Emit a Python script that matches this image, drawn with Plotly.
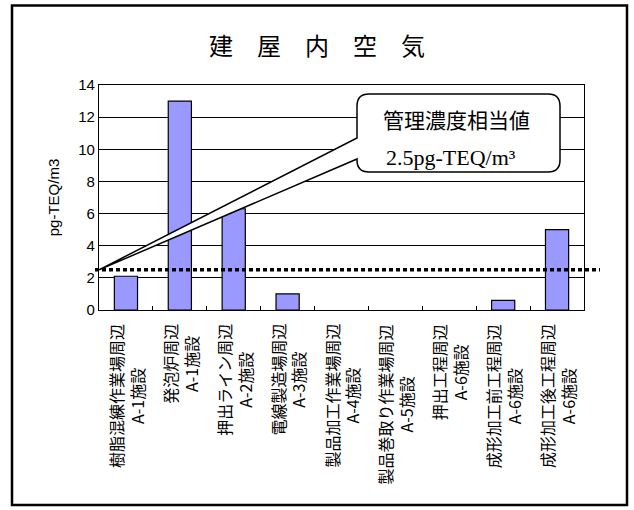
import plotly.graph_objects as go

# Sampling locations (two-line labels: location / facility)
locations = ["樹脂混練作業場周辺", "発泡炉周辺", "押出ライン周辺", "電線製造場周辺",
             "製品加工作業場周辺", "製品巻取り作業場周辺", "押出工程周辺",
             "成形加工前工程周辺", "成形加工後工程周辺"]
facilities = ["A-1施設", "A-1施設", "A-2施設", "A-3施設", "A-4施設",
              "A-5施設", "A-6施設", "A-6施設", "A-6施設"]
# Indoor air concentration (pg-TEQ/m3); None = no measurement bar
concentration = [2.1, 13.0, 6.3, 1.0, None, None, None, 0.6, 5.0]
y_ticks = [0, 2, 4, 6, 8, 10, 12, 14]
control_level = 2.5  # 管理濃度相当値

W, H = 634, 510
ML, MR, MT, MB = 99, 50, 85, 200
PW, PH = W - ML - MR, H - MT - MB
XR = [-0.5, len(locations) - 0.5]
YR = [0, 14]
CJK = "Noto Sans CJK JP, sans-serif"
LAT = "Liberation Sans, Arial, sans-serif"

x = list(range(len(locations)))

fig = go.Figure()
fig.add_trace(go.Bar(
    x=x, y=concentration, width=0.43,
    marker=dict(color="#9999FF", line=dict(color="#000000", width=1.2)),
    hoverinfo="y",
))


def px_to_x(px):
    return XR[0] + (px - ML) / PW * (XR[1] - XR[0])


def px_to_y(py):
    return YR[0] + (MT + PH - py) / PH * (YR[1] - YR[0])


# Speech-bubble callout pointing at the control level on the y axis
bl, br, bt, bb, r = 357, 560, 94, 172, 12
j_up, j_lo = 138, 159
tip = (XR[0], control_level)


def P(px, py):
    return f"{px_to_x(px):.4f},{px_to_y(py):.4f}"


path = (f"M {tip[0]},{tip[1]} L {P(bl, j_up)} L {P(bl, bt + r)} "
        f"Q {P(bl, bt)} {P(bl + r, bt)} L {P(br - r, bt)} "
        f"Q {P(br, bt)} {P(br, bt + r)} L {P(br, bb - r)} "
        f"Q {P(br, bb)} {P(br - r, bb)} L {P(bl + r, bb)} "
        f"Q {P(bl, bb)} {P(bl, bb - r)} L {P(bl, j_lo)} Z")

shapes = [
    # control level dotted line, extending past the plot edges
    dict(type="line", xref="paper", yref="y",
         x0=(95 - ML) / PW, x1=(600 - ML) / PW, y0=control_level, y1=control_level,
         line=dict(color="#000000", width=3.5, dash="4px,3px"), layer="above"),
    dict(type="path", xref="x", yref="y", path=path,
         fillcolor="#FFFFFF", line=dict(color="#000000", width=1.5), layer="above"),
    # outer frame
    dict(type="rect", xref="paper", yref="paper",
         x0=(12 - ML) / PW, x1=(627 - ML) / PW,
         y0=(MT + PH - 505) / PH, y1=(MT + PH - 5.5) / PH,
         line=dict(color="#000000", width=2.5), fillcolor="rgba(0,0,0,0)", layer="above"),
]

annotations = [
    dict(text="管理濃度相当値", xref="x", yref="y",
         x=px_to_x(456), y=px_to_y(119), showarrow=False,
         font=dict(family=CJK, size=21, color="#000000")),
    dict(text="2.5pg-TEQ/m³", xref="x", yref="y",
         x=px_to_x(451), y=px_to_y(157), showarrow=False,
         font=dict(family="Liberation Serif, Times New Roman, serif", size=22, color="#000000")),
]

# Category labels, rotated, below the axis
for i, (loc, fac) in enumerate(zip(locations, facilities)):
    annotations.append(dict(
        text=f"{loc}<br>{fac}", x=i, y=0, xref="x", yref="y",
        yanchor="top", xanchor="center", yshift=-12, textangle=-90,
        align="center", showarrow=False,
        font=dict(family=CJK, size=16, color="#000000"),
    ))

fig.update_layout(
    width=W, height=H,
    margin=dict(l=ML, r=MR, t=MT, b=MB, pad=0),
    paper_bgcolor="#FFFFFF", plot_bgcolor="#FFFFFF",
    showlegend=False,
    title=dict(text="建　屋　内　空　気", x=0.5, xref="container",
               y=1 - 47 / H, yref="container", yanchor="middle", xanchor="center",
               font=dict(family=CJK, size=24, color="#000000")),
    shapes=shapes, annotations=annotations,
)
fig.update_xaxes(
    range=XR, tickmode="array", tickvals=[i + 0.5 for i in x[:-1]],
    showticklabels=False, ticks="inside", ticklen=4, tickcolor="#000000",
    showgrid=False, zeroline=False,
    showline=True, linecolor="#000000", linewidth=1.2, mirror=True,
)
fig.update_yaxes(
    range=YR, tickmode="array", tickvals=y_ticks,
    ticks="", tickfont=dict(family=LAT, size=15, color="#000000"),
    showgrid=True, gridcolor="#000000", gridwidth=1, zeroline=False,
    showline=True, linecolor="#000000", linewidth=1.2, mirror=True,
    title=dict(text="pg-TEQ/m3", font=dict(family=LAT, size=15, color="#000000"), standoff=14),
)

fig.write_html("out.html")
